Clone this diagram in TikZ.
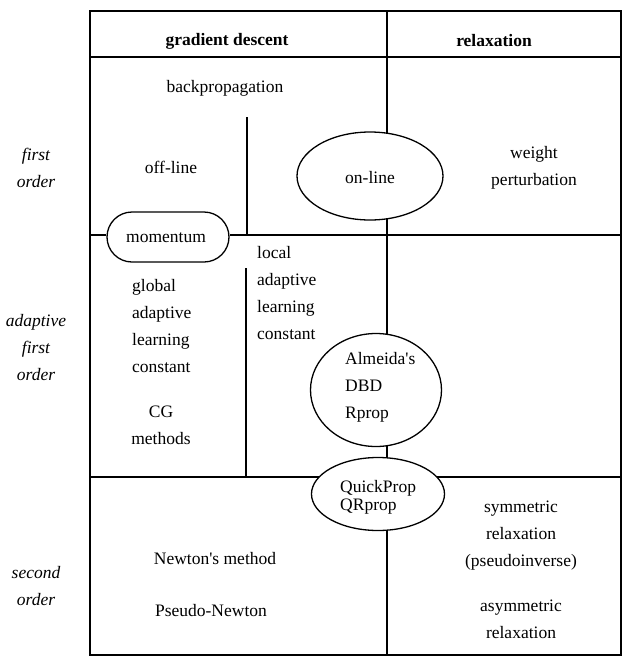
\documentclass[tikz,border=0pt]{standalone}
\usepackage{fontspec}
\setmainfont{Liberation Serif}
\usetikzlibrary{shapes.geometric}
\begin{document}
\begin{tikzpicture}[x=1pt,y=-1pt,
  frame/.style={line width=2pt},
  thin/.style={line width=1.4pt},
  oval/.style={draw,ellipse,line width=1.3pt,fill=white,inner sep=0pt},
  txt/.style={font=\fontsize{17.5}{27}\selectfont,inner sep=0pt,align=center},
  txtl/.style={font=\fontsize{17.5}{27}\selectfont,inner sep=0pt,align=left,anchor=north west},
  head/.style={font=\fontsize{17.5}{27}\selectfont\bfseries,inner sep=0pt},
  side/.style={font=\fontsize{17.5}{27}\selectfont\itshape,inner sep=0pt,align=center}]
\useasboundingbox (0,0) rectangle (630,662);
% frame
\draw[frame] (90,11) rectangle (621,655);
\draw[frame] (90,57) -- (621,57);
\draw[frame] (90,477) -- (621,477);
\draw[frame] (247,117) -- (247,235);
\draw[frame] (246,268) -- (246,477);
\draw[thin] (387,11) -- (387,655);
% momentum row line
\coordinate (ml) at (90,235);
\coordinate (mr) at (621,235);
\node[draw,rounded corners=25pt,line width=1.3pt,fill=white,minimum width=122pt,minimum height=50pt,inner sep=0pt] (mom) at (168,237) {};
\draw[frame] (ml) -- (mom.west |- ml);
\draw[frame] (mom.east |- mr) -- (mr);
\node[txt] at (166,238) {momentum};
% ellipses
\node[oval,minimum width=146pt,minimum height=88pt] (online) at (370,176) {};
\node[txt] at (370,178) {on-line};
\node[oval,minimum width=131pt,minimum height=113pt] (alm) at (376,390) {};
\node[oval,minimum width=133pt,minimum height=73pt] (qp) at (378,494) {};
% headers
\node[head] at (227,41) {gradient descent};
\node[head] at (494,41) {relaxation};
% side labels
\node[side] at (36,168) {first\\order};
\node[side] at (36,348) {adaptive\\first\\order};
\node[side] at (36,586) {second\\order};
% texts
\node[txt] at (225,88) {backpropagation};
\node[txt] at (171,167) {off-line};
\node[txt] at (534,168) {weight\\perturbation};
\node[txtl] at (257,246) {local\\adaptive\\learning\\constant};
\node[txtl] at (132,279) {global\\adaptive\\learning\\constant};
\node[txt] at (161,425) {CG\\methods};
\node[txtl] at (345,352) {Almeida\textquotesingle s\\DBD\\Rprop};
\node[font=\fontsize{17.5}{18}\selectfont,inner sep=0pt,align=left,anchor=north west] at (340,480) {QuickProp\\QRprop};
\node[txt] at (521,536) {symmetric\\relaxation\\(pseudoinverse)};
\node[txt] at (521,619) {asymmetric\\relaxation};
\node[txt] at (215,559) {Newton\textquotesingle s method};
\node[txt] at (211,611) {Pseudo-Newton};
\end{tikzpicture}
\end{document}
